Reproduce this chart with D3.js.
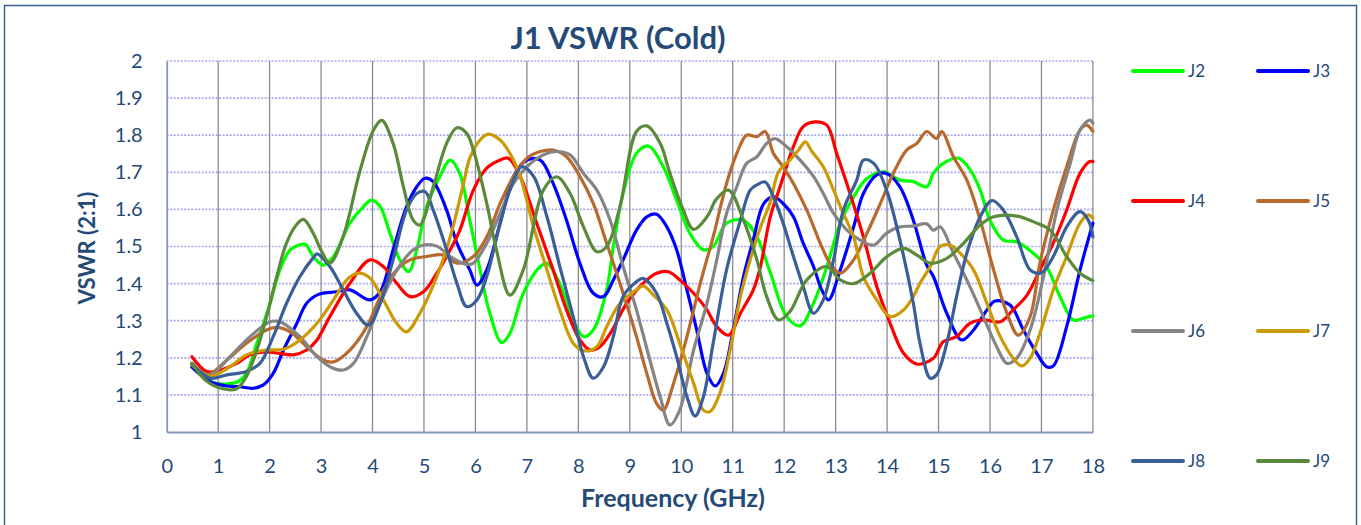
<!DOCTYPE html>
<html>
<head>
<meta charset="utf-8">
<script src="https://cdn.jsdelivr.net/npm/d3@7"></script>
<style>
  body { margin: 0; background: #fff; }
  text { font-family: Lato, "Open Sans", sans-serif; }
</style>
</head>
<body>
<svg id="chart" width="1361" height="525"></svg>
<script>
// Frequency (GHz), VSWR pairs
const J2 = [[0.49,1.176],[0.84,1.136],[1.1,1.129],[1.39,1.136],[1.55,1.158],[1.75,1.239],[2.01,1.347],[2.2,1.437],[2.4,1.491],[2.53,1.502],[2.69,1.506],[2.85,1.473],[3.04,1.45],[3.24,1.473],[3.56,1.563],[3.82,1.607],[3.98,1.625],[4.15,1.607],[4.34,1.535],[4.53,1.464],[4.7,1.432],[4.86,1.491],[5.05,1.607],[5.31,1.689],[5.51,1.733],[5.7,1.695],[5.89,1.571],[6.09,1.437],[6.28,1.32],[6.51,1.241],[6.67,1.266],[6.93,1.374],[7.26,1.446],[7.39,1.455],[7.64,1.4],[7.9,1.302],[8.1,1.257],[8.29,1.275],[8.55,1.383],[8.68,1.5],[8.87,1.643],[9.13,1.751],[9.36,1.771],[9.65,1.715],[9.91,1.625],[10.17,1.535],[10.43,1.491],[10.62,1.5],[10.88,1.563],[11.21,1.571],[11.47,1.526],[11.73,1.43],[12.05,1.311],[12.31,1.286],[12.57,1.347],[12.83,1.446],[13.09,1.563],[13.35,1.634],[13.61,1.683],[13.93,1.701],[14.25,1.679],[14.51,1.675],[14.77,1.661],[14.9,1.697],[15.09,1.724],[15.39,1.738],[15.62,1.706],[15.81,1.652],[16.0,1.571],[16.26,1.517],[16.52,1.513],[16.84,1.482],[17.1,1.446],[17.36,1.365],[17.62,1.302],[17.82,1.307],[18.0,1.313]];

const J3 = [[0.49,1.175],[0.84,1.136],[1.17,1.124],[1.42,1.122],[1.68,1.118],[1.88,1.127],[2.07,1.158],[2.27,1.221],[2.53,1.293],[2.72,1.347],[2.95,1.371],[3.3,1.378],[3.56,1.383],[3.95,1.356],[4.15,1.378],[4.4,1.491],[4.66,1.607],[4.86,1.661],[5.02,1.684],[5.18,1.675],[5.44,1.598],[5.64,1.509],[5.89,1.437],[6.03,1.396],[6.22,1.437],[6.48,1.563],[6.74,1.689],[7.0,1.733],[7.26,1.733],[7.51,1.67],[7.77,1.571],[8.03,1.455],[8.29,1.374],[8.49,1.365],[8.68,1.41],[8.87,1.464],[9.13,1.544],[9.33,1.58],[9.52,1.587],[9.72,1.553],[9.91,1.491],[10.11,1.383],[10.3,1.275],[10.5,1.158],[10.66,1.124],[10.82,1.158],[11.01,1.275],[11.21,1.419],[11.4,1.518],[11.6,1.615],[11.79,1.634],[11.98,1.616],[12.18,1.58],[12.37,1.509],[12.57,1.446],[12.73,1.383],[12.86,1.356],[13.09,1.437],[13.35,1.553],[13.54,1.643],[13.8,1.693],[13.99,1.697],[14.25,1.661],[14.51,1.571],[14.77,1.45],[14.9,1.419],[15.16,1.32],[15.45,1.248],[15.68,1.275],[15.94,1.329],[16.1,1.353],[16.39,1.342],[16.65,1.275],[16.91,1.212],[17.1,1.176],[17.23,1.178],[17.49,1.284],[17.75,1.437],[18.0,1.563]];

const J4 = [[0.49,1.203],[0.78,1.163],[1.04,1.167],[1.36,1.185],[1.62,1.208],[1.94,1.216],[2.2,1.212],[2.46,1.208],[2.72,1.221],[2.92,1.248],[3.17,1.311],[3.56,1.401],[3.95,1.464],[4.21,1.446],[4.47,1.401],[4.73,1.365],[4.99,1.378],[5.25,1.428],[5.51,1.491],[5.7,1.545],[5.96,1.652],[6.22,1.711],[6.48,1.733],[6.64,1.738],[6.87,1.689],[7.19,1.563],[7.51,1.437],[7.77,1.329],[8.03,1.248],[8.23,1.221],[8.42,1.23],[8.62,1.266],[8.94,1.347],[9.26,1.401],[9.52,1.428],[9.75,1.432],[9.97,1.41],[10.24,1.374],[10.5,1.329],[10.69,1.284],[10.92,1.261],[11.15,1.32],[11.4,1.383],[11.53,1.44],[11.73,1.58],[11.92,1.661],[12.18,1.769],[12.37,1.823],[12.6,1.836],[12.83,1.827],[13.02,1.751],[13.28,1.643],[13.54,1.526],[13.8,1.392],[14.06,1.293],[14.32,1.212],[14.58,1.183],[14.9,1.199],[15.09,1.243],[15.35,1.257],[15.61,1.293],[15.87,1.302],[16.2,1.297],[16.45,1.329],[16.72,1.369],[16.97,1.437],[17.23,1.509],[17.49,1.598],[17.75,1.697],[17.94,1.729],[18.0,1.729]];

const J5 = [[0.49,1.185],[0.78,1.154],[1.17,1.194],[1.55,1.239],[1.94,1.275],[2.14,1.282],[2.4,1.27],[2.72,1.23],[3.04,1.194],[3.24,1.189],[3.56,1.221],[3.89,1.284],[4.21,1.383],[4.47,1.437],[4.73,1.464],[5.05,1.473],[5.38,1.477],[5.64,1.455],[5.96,1.473],[6.22,1.526],[6.48,1.616],[6.74,1.689],[7.0,1.738],[7.26,1.756],[7.51,1.76],[7.77,1.742],[8.03,1.689],[8.29,1.616],[8.55,1.509],[8.81,1.4],[9.13,1.257],[9.33,1.158],[9.52,1.077],[9.65,1.059],[9.85,1.131],[10.11,1.257],[10.37,1.401],[10.62,1.526],[10.88,1.67],[11.08,1.751],[11.27,1.8],[11.47,1.796],[11.63,1.81],[11.79,1.751],[11.98,1.715],[12.18,1.67],[12.44,1.598],[12.7,1.509],[12.89,1.455],[13.09,1.428],[13.35,1.464],[13.61,1.536],[13.87,1.616],[14.12,1.697],[14.38,1.76],[14.58,1.778],[14.77,1.81],[14.96,1.791],[15.06,1.81],[15.29,1.742],[15.55,1.679],[15.81,1.571],[16.07,1.437],[16.33,1.32],[16.55,1.261],[16.78,1.311],[16.97,1.455],[17.23,1.598],[17.49,1.715],[17.75,1.814],[17.88,1.827],[18.0,1.81]];

const J6 = [[0.49,1.181],[0.84,1.154],[1.23,1.203],[1.62,1.257],[2.01,1.297],[2.2,1.297],[2.59,1.257],[2.92,1.203],[3.2,1.174],[3.43,1.167],[3.63,1.185],[3.89,1.257],[4.15,1.347],[4.4,1.419],[4.66,1.473],[4.79,1.491],[4.99,1.504],[5.25,1.501],[5.51,1.473],[5.83,1.452],[5.96,1.455],[6.22,1.509],[6.48,1.589],[6.74,1.67],[7.0,1.715],[7.32,1.747],[7.58,1.756],[7.84,1.747],[8.1,1.697],[8.36,1.652],[8.62,1.57],[8.87,1.446],[9.13,1.329],[9.39,1.194],[9.59,1.095],[9.78,1.019],[9.97,1.059],[10.24,1.221],[10.5,1.347],[10.69,1.464],[10.88,1.589],[11.08,1.661],[11.27,1.724],[11.47,1.742],[11.66,1.778],[11.82,1.791],[12.05,1.769],[12.31,1.733],[12.57,1.689],[12.76,1.643],[12.96,1.589],[13.22,1.544],[13.48,1.517],[13.74,1.504],[13.99,1.536],[14.25,1.553],[14.51,1.555],[14.77,1.561],[14.9,1.544],[15.03,1.553],[15.29,1.482],[15.61,1.392],[15.87,1.311],[16.13,1.23],[16.33,1.185],[16.52,1.199],[16.78,1.275],[17.04,1.419],[17.3,1.598],[17.56,1.724],[17.75,1.814],[17.94,1.841],[18.0,1.832]];

const J7 = [[0.49,1.181],[0.84,1.151],[1.23,1.176],[1.55,1.208],[1.94,1.221],[2.27,1.223],[2.59,1.248],[2.92,1.293],[3.24,1.356],[3.5,1.41],[3.72,1.428],[3.95,1.415],[4.21,1.356],[4.47,1.293],[4.66,1.27],[4.92,1.32],[5.25,1.419],[5.51,1.526],[5.77,1.67],[5.89,1.738],[6.09,1.787],[6.25,1.803],[6.48,1.787],[6.67,1.751],[6.87,1.689],[7.13,1.553],[7.39,1.437],[7.64,1.329],[7.9,1.239],[8.1,1.219],[8.36,1.23],[8.55,1.284],[8.81,1.347],[9.13,1.383],[9.26,1.394],[9.46,1.369],[9.72,1.329],[9.97,1.239],[10.24,1.131],[10.43,1.059],[10.56,1.055],[10.75,1.104],[10.95,1.221],[11.15,1.365],[11.34,1.464],[11.53,1.548],[11.73,1.62],[11.89,1.701],[12.11,1.733],[12.28,1.76],[12.41,1.782],[12.54,1.756],[12.76,1.715],[12.96,1.652],[13.15,1.589],[13.35,1.526],[13.54,1.419],[13.8,1.356],[14.06,1.311],[14.32,1.329],[14.51,1.365],[14.64,1.401],[14.84,1.446],[15.03,1.5],[15.22,1.504],[15.42,1.482],[15.68,1.437],[15.94,1.347],[16.2,1.257],[16.45,1.199],[16.62,1.178],[16.78,1.199],[16.97,1.266],[17.23,1.383],[17.49,1.473],[17.75,1.563],[17.91,1.585],[18.0,1.576]];

const J8 = [[0.49,1.185],[0.84,1.145],[1.17,1.154],[1.55,1.163],[1.81,1.185],[2.07,1.257],[2.33,1.347],[2.59,1.419],[2.85,1.47],[2.92,1.48],[3.17,1.446],[3.43,1.383],[3.69,1.32],[3.92,1.288],[4.15,1.347],[4.4,1.464],[4.66,1.598],[4.86,1.643],[5.02,1.648],[5.18,1.598],[5.44,1.491],[5.64,1.401],[5.83,1.338],[6.03,1.356],[6.22,1.419],[6.48,1.563],[6.74,1.679],[6.9,1.715],[7.13,1.689],[7.39,1.58],[7.64,1.446],[7.9,1.311],[8.1,1.203],[8.29,1.145],[8.49,1.176],[8.68,1.257],[8.87,1.365],[9.13,1.405],[9.26,1.414],[9.52,1.374],[9.72,1.293],[9.91,1.203],[10.11,1.095],[10.27,1.043],[10.43,1.095],[10.62,1.239],[10.88,1.437],[11.15,1.571],[11.34,1.652],[11.47,1.666],[11.63,1.674],[11.79,1.634],[11.98,1.563],[12.18,1.473],[12.37,1.392],[12.57,1.32],[12.76,1.356],[12.96,1.464],[13.15,1.598],[13.41,1.679],[13.54,1.733],[13.74,1.724],[13.99,1.652],[14.25,1.517],[14.51,1.347],[14.64,1.239],[14.84,1.145],[14.96,1.154],[15.16,1.239],[15.35,1.365],[15.55,1.482],[15.81,1.58],[16.04,1.624],[16.26,1.598],[16.52,1.526],[16.78,1.437],[17.0,1.429],[17.23,1.473],[17.49,1.553],[17.75,1.594],[17.91,1.571],[18.0,1.526]];

const J9 = [[0.49,1.185],[0.75,1.14],[1.0,1.12],[1.35,1.116],[1.55,1.15],[1.75,1.22],[1.94,1.31],[2.14,1.42],[2.33,1.51],[2.53,1.56],[2.66,1.573],[2.85,1.535],[3.0,1.49],[3.17,1.455],[3.43,1.527],[3.76,1.706],[4.02,1.814],[4.18,1.84],[4.4,1.778],[4.6,1.661],[4.79,1.571],[4.92,1.558],[5.18,1.661],[5.44,1.778],[5.64,1.82],[5.83,1.805],[5.96,1.76],[6.22,1.616],[6.41,1.49],[6.67,1.369],[6.93,1.437],[7.32,1.652],[7.58,1.688],[7.84,1.643],[8.1,1.553],[8.36,1.486],[8.55,1.5],[8.81,1.608],[9.13,1.81],[9.33,1.825],[9.59,1.778],[9.78,1.697],[10.04,1.598],[10.24,1.546],[10.5,1.58],[10.69,1.629],[10.92,1.652],[11.21,1.571],[11.47,1.464],[11.66,1.365],[11.89,1.302],[12.11,1.324],[12.44,1.41],[12.83,1.446],[13.09,1.41],[13.35,1.4],[13.67,1.428],[13.99,1.472],[14.32,1.495],[14.58,1.477],[14.84,1.455],[15.16,1.468],[15.48,1.508],[15.81,1.558],[16.07,1.58],[16.52,1.582],[16.84,1.567],[17.17,1.544],[17.49,1.473],[17.75,1.428],[18.0,1.408]];

const seriesNames = ["J2", "J3", "J4", "J5", "J6", "J7", "J8", "J9"];
const seriesData = [J2, J3, J4, J5, J6, J7, J8, J9];
const seriesColors = ["#00ff00", "#0000ff", "#ff0000", "#b8692e", "#858585", "#cc9a06", "#3a5e98", "#5a8a3a"];

const xTicks = d3.range(0, 19, 1);
const yTicks = d3.range(1, 2.001, 0.1);

const svg = d3.select("#chart");
const textColor = "#244a78";

// outer chart border
svg.append("rect")
  .attr("x", 4.5).attr("y", 5.5)
  .attr("width", 1352).attr("height", 525)
  .attr("fill", "#fff")
  .attr("stroke", "#3b6191")
  .attr("stroke-width", 1.5);

const x = d3.scaleLinear().domain([0, 18]).range([166.7, 1092.9]);
const y = d3.scaleLinear().domain([1, 2]).range([432, 61]);

// horizontal grid
svg.append("g")
  .selectAll("line")
  .data(yTicks.slice(1))
  .join("line")
  .attr("x1", x(0)).attr("x2", x(18))
  .attr("y1", d => y(d)).attr("y2", d => y(d))
  .attr("stroke", "#a8a8f0")
  .attr("stroke-width", 1.7)
  .attr("stroke-dasharray", "2,1.5");

// vertical grid
svg.append("g")
  .selectAll("line")
  .data(xTicks.slice(1))
  .join("line")
  .attr("x1", d => x(d)).attr("x2", d => x(d))
  .attr("y1", y(2)).attr("y2", y(1))
  .attr("stroke", "#8c8c8c")
  .attr("stroke-width", 1.3);

// axes
const xAxis = svg.append("g")
  .attr("transform", `translate(0,${y(1)})`)
  .call(d3.axisBottom(x).tickValues(xTicks).tickSize(0).tickPadding(23).tickFormat(d3.format("d")));
const yAxis = svg.append("g")
  .attr("transform", `translate(${x(0)},0)`)
  .call(d3.axisLeft(y).tickValues(yTicks).tickSize(0).tickPadding(24).tickFormat(d => d3.format("~g")(+d.toFixed(1))));

[xAxis, yAxis].forEach(a => {
  a.select(".domain").attr("stroke", "#8497b8").attr("stroke-width", 1.8);
  a.selectAll("text")
    .attr("fill", textColor)
    .style("font-size", "20px")
    .style("font-family", "Lato, sans-serif");
});
xAxis.selectAll("text").attr("dy", "0.9em");

// series lines
const line = d3.line()
  .x(d => x(d[0]))
  .y(d => y(d[1]))
  .curve(d3.curveCatmullRom.alpha(0.5));

svg.append("g")
  .selectAll("path")
  .data(seriesData)
  .join("path")
  .attr("d", line)
  .attr("fill", "none")
  .attr("stroke", (d, i) => seriesColors[i])
  .attr("stroke-width", 3.2)
  .attr("stroke-linejoin", "round")
  .attr("stroke-linecap", "round");

// title
svg.append("text")
  .attr("x", 618).attr("y", 49)
  .attr("text-anchor", "middle")
  .attr("fill", textColor)
  .style("font-size", "31px")
  .style("font-weight", "bold")
  .text("J1 VSWR (Cold)");

// axis titles
svg.append("text")
  .attr("x", 673).attr("y", 507)
  .attr("text-anchor", "middle")
  .attr("fill", textColor)
  .style("font-size", "25px")
  .style("font-weight", "bold")
  .text("Frequency (GHz)");

svg.append("text")
  .attr("transform", "translate(95,248) rotate(-90)")
  .attr("text-anchor", "middle")
  .attr("fill", textColor)
  .style("font-size", "22px")
  .style("font-weight", "bold")
  .text("VSWR (2:1)");

// legend: two columns, four rows
const legend = svg.append("g")
  .selectAll("g")
  .data(seriesNames)
  .join("g")
  .attr("transform", (d, i) => `translate(${i % 2 === 0 ? 1133 : 1258},${71 + Math.floor(i / 2) * 130})`);

legend.append("line")
  .attr("x1", 0).attr("x2", 50)
  .attr("stroke", (d, i) => seriesColors[i])
  .attr("stroke-width", 4)
  .attr("stroke-linecap", "round");

legend.append("text")
  .attr("x", 55)
  .attr("dy", "0.36em")
  .attr("fill", textColor)
  .style("font-size", "17px")
  .text(d => d);
</script>
</body>
</html>
